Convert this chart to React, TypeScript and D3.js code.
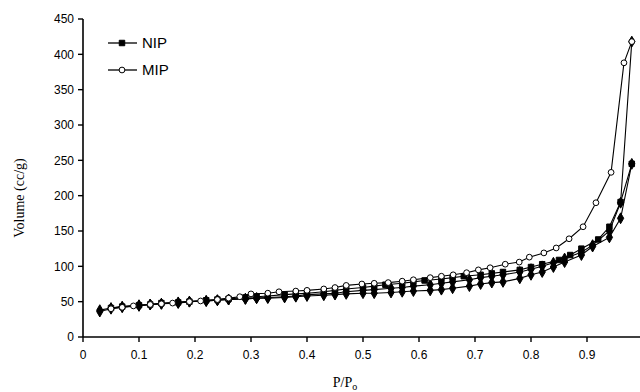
import React from 'react';
import * as d3 from 'd3';

// P/P0 and volume (cc/g)
const nipAdsP = [0.03, 0.05, 0.07, 0.1, 0.12, 0.14, 0.17, 0.19, 0.22, 0.24, 0.26, 0.29, 0.31, 0.33, 0.36, 0.38, 0.4, 0.43, 0.45, 0.47, 0.5, 0.52, 0.55, 0.57, 0.59, 0.62, 0.64, 0.66, 0.69, 0.71, 0.73, 0.75, 0.78, 0.8, 0.82, 0.84, 0.86, 0.89, 0.91, 0.94, 0.96, 0.98];
const nipAdsV = [38, 41, 43, 45, 46, 47, 49, 50, 51, 52, 53, 54, 55, 55, 56, 57, 58, 59, 60, 61, 62, 62, 63, 64, 65, 66, 67, 69, 72, 75, 77, 78, 83, 88, 92, 99, 106, 116, 128, 141, 168, 245];

const nipDesP = [0.98, 0.96, 0.94, 0.92, 0.89, 0.87, 0.85, 0.82, 0.8, 0.78, 0.75, 0.73, 0.71, 0.68, 0.66, 0.64, 0.61, 0.59, 0.57, 0.54, 0.52, 0.5, 0.47, 0.45, 0.43, 0.4, 0.38, 0.36, 0.33, 0.31, 0.29, 0.26, 0.24, 0.22, 0.19, 0.17, 0.14, 0.12, 0.1, 0.07, 0.05];
const nipDesV = [245, 191, 156, 138, 125, 116, 109, 103, 99, 95, 92, 90, 88, 86, 84, 82, 80, 78, 76, 74, 72, 70, 68, 66, 64, 62, 61, 60, 58, 57, 56, 54, 53, 52, 50, 49, 48, 46, 45, 43, 41];

const mipAdsP = [0.03, 0.05, 0.07, 0.1, 0.12, 0.14, 0.17, 0.19, 0.22, 0.24, 0.26, 0.29, 0.31, 0.33, 0.36, 0.38, 0.4, 0.43, 0.45, 0.47, 0.5, 0.52, 0.55, 0.57, 0.59, 0.62, 0.64, 0.66, 0.69, 0.71, 0.73, 0.75, 0.78, 0.8, 0.82, 0.84, 0.86, 0.89, 0.91, 0.94, 0.96, 0.98];
const mipAdsV = [36, 40, 42, 44, 46, 47, 48, 50, 51, 52, 53, 54, 55, 56, 57, 58, 60, 61, 62, 64, 66, 67, 69, 70, 72, 74, 76, 78, 81, 84, 86, 88, 92, 96, 100, 105, 111, 120, 130, 150, 190, 418];

const mipDesP = [0.98, 0.966, 0.943, 0.916, 0.893, 0.868, 0.845, 0.823, 0.797, 0.779, 0.754, 0.727, 0.706, 0.685, 0.661, 0.64, 0.62, 0.59, 0.57, 0.545, 0.52, 0.498, 0.47, 0.45, 0.43, 0.4, 0.38, 0.35, 0.33, 0.3, 0.28, 0.26, 0.24, 0.21, 0.19, 0.16, 0.14, 0.12, 0.09, 0.07, 0.05];
const mipDesV = [418, 388, 233, 190, 156, 139, 126, 119, 113, 106, 103, 98, 95, 91, 88, 86, 84, 81, 79, 77, 76, 75, 73, 70, 68, 66, 65, 64, 62, 61, 57, 55, 53, 51, 50, 48, 47, 46, 44, 42, 40];

const xTicks = [0, 0.1, 0.2, 0.3, 0.4, 0.5, 0.6, 0.7, 0.8, 0.9, 1];
const yTicks = [0, 50, 100, 150, 200, 250, 300, 350, 400, 450];
const legendNames = ['NIP', 'MIP'];

type Marker = 'square' | 'diamond' | 'circle';

const series: { p: number[]; v: number[]; marker: Marker }[] = [
  { p: nipAdsP, v: nipAdsV, marker: 'diamond' },
  { p: mipAdsP, v: mipAdsV, marker: 'diamond' },
  { p: nipDesP, v: nipDesV, marker: 'square' },
  { p: mipDesP, v: mipDesV, marker: 'circle' },
];

const W = 640;
const H = 392;
const margin = { left: 83, top: 19 };
const x = d3.scaleLinear().domain([0, 1]).range([margin.left, 643]);
const y = d3.scaleLinear().domain([0, 450]).range([337, margin.top]);

const line = d3.line<[number, number]>()
  .x(d => x(d[0]))
  .y(d => y(d[1]));

const sym = {
  square: d3.symbol().type(d3.symbolSquare).size(30)(),
  diamond: d3.symbol().type(d3.symbolDiamond).size(34)(),
  circle: d3.symbol().type(d3.symbolCircle).size(26)(),
};

function Mark({ cx, cy, marker }: { cx: number; cy: number; marker: Marker }) {
  const open = marker === 'circle';
  return (
    <path
      d={sym[marker] as string}
      transform={`translate(${cx},${cy})`}
      fill={open ? '#fff' : '#000'}
      stroke="#000"
      strokeWidth={1}
    />
  );
}

export default function App() {
  const tickFont = 'Liberation Sans, Arial, sans-serif';
  return (
    <svg width={W} height={H} style={{ position: 'absolute', left: 0, top: 0, background: '#fff' }}>
      <rect width={W} height={H} fill="#fff" />

      {/* series lines */}
      {series.map((s, i) => (
        <path
          key={'l' + i}
          d={line(s.p.map((p, j) => [p, s.v[j]] as [number, number])) as string}
          fill="none"
          stroke="#000"
          strokeWidth={1.1}
        />
      ))}
      {/* markers */}
      {series.map((s, i) => (
        <g key={'m' + i}>
          {s.p.map((p, j) => (
            <Mark key={j} cx={x(p)} cy={y(s.v[j])} marker={s.marker} />
          ))}
        </g>
      ))}

      {/* axes */}
      <line x1={x(0)} x2={x(0)} y1={y(450)} y2={y(0)} stroke="#000" strokeWidth={1.6} />
      <line x1={x(0)} x2={x(1)} y1={y(0)} y2={y(0)} stroke="#000" strokeWidth={1.6} />
      {yTicks.map(t => (
        <g key={'y' + t}>
          <line x1={x(0) - 5} x2={x(0)} y1={y(t)} y2={y(t)} stroke="#000" strokeWidth={1.4} />
          <text x={x(0) - 9} y={y(t)} dy="0.35em" textAnchor="end" fontFamily={tickFont} fontSize={12}>
            {t}
          </text>
        </g>
      ))}
      {xTicks.map(t => (
        <g key={'x' + t}>
          <line x1={x(t)} x2={x(t)} y1={y(0)} y2={y(0) + 5} stroke="#000" strokeWidth={1.4} />
          <text x={x(t)} y={y(0) + 22} textAnchor="middle" fontFamily={tickFont} fontSize={12}>
            {String(t)}
          </text>
        </g>
      ))}

      {/* axis titles */}
      <text
        transform={`translate(24, ${(y(0) + y(450)) / 2 + 20}) rotate(-90)`}
        textAnchor="middle"
        fontFamily="Liberation Serif, Times New Roman, serif"
        fontSize={14}
      >
        Volume (cc/g)
      </text>
      <text x={345} y={387} textAnchor="middle" fontFamily="Liberation Serif, Times New Roman, serif" fontSize={14}>
        P/P<tspan fontSize={10} dy={3}>o</tspan>
      </text>

      {/* legend */}
      {legendNames.map((name, i) => {
        const ly = 43 + i * 27;
        return (
          <g key={name}>
            <line x1={108} x2={137} y1={ly} y2={ly} stroke="#000" strokeWidth={1.3} />
            <Mark cx={122} cy={ly} marker={i === 0 ? 'square' : 'circle'} />
            <text x={142} y={ly} dy="0.36em" fontFamily={tickFont} fontSize={15}>
              {name}
            </text>
          </g>
        );
      })}
    </svg>
  );
}
